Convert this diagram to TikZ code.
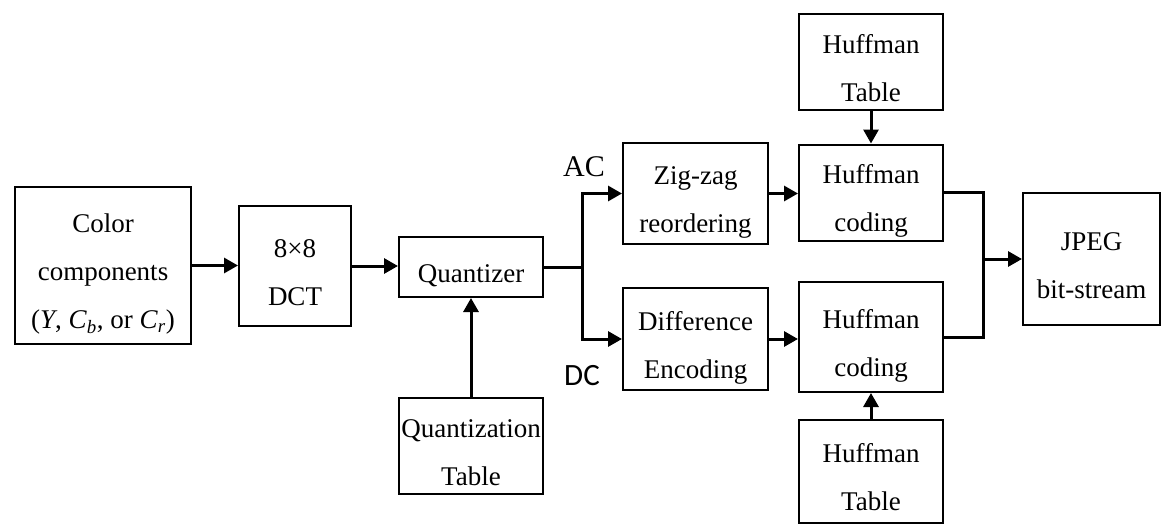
\documentclass[tikz,border=0pt]{standalone}
\usepackage{fontspec}
\setmainfont{Liberation Serif}
\newfontfamily\labelsans{Carlito}
\usetikzlibrary{arrows.meta}
% every text line 48pt tall, baseline 9pt above its foot
\newcommand{\linestrut}{\rule[-9pt]{0pt}{48pt}}

\begin{document}
\begin{tikzpicture}[x=1pt,y=-1pt,
  block/.style={draw,line width=2pt,align=center,inner sep=0pt,
    font={\fontsize{27}{48}\selectfont\ifhmode\linestrut\fi}},
  flow/.style={line width=3pt,-{Triangle[length=14pt,width=15pt]}},
  link/.style={line width=3pt}]
\useasboundingbox (0,0) rectangle (1161,525);

\node[block,minimum width=176pt,minimum height=157pt] (color) at (103,265.5) {\linestrut Color\\components\\(\textit{Y}, \textit{C}\textsubscript{\textit{b}}, or \textit{C}\textsubscript{\textit{r}})};
\node[block,minimum width=112pt,minimum height=120pt] (dct) at (295,266) {\linestrut 8×8\\DCT};
\node[block,minimum width=144pt,minimum height=60pt] (quant) at (471,267) {Quantizer};
\node[block,minimum width=144pt,minimum height=96pt] (qtable) at (471,446) {\linestrut Quantization\\Table};
\node[block,minimum width=145pt,minimum height=101pt] (zigzag) at (695.5,193.5) {\linestrut Zig-zag\\reordering};
\node[block,minimum width=145pt,minimum height=102pt] (diff) at (695.5,339) {\linestrut Difference\\Encoding};
\node[block,minimum width=144pt,minimum height=96pt] (htabup) at (871,62) {\linestrut Huffman\\Table};
\node[block,minimum width=144pt,minimum height=95pt] (hcodeup) at (871,192.5) {\linestrut Huffman\\coding};
\node[block,minimum width=144pt,minimum height=110pt] (hcodelow) at (871,337) {\linestrut Huffman\\coding};
\node[block,minimum width=144pt,minimum height=103pt] (htablow) at (871,471.5) {\linestrut Huffman\\Table};
\node[block,minimum width=137pt,minimum height=132pt] (jpeg) at (1091.5,259) {\linestrut JPEG\\bit-stream};

\node[font=\fontsize{30}{32}\selectfont] (ac) at (584,167) {AC};
\node[font=\fontsize{31}{34}\labelsans] (dc) at (582,376) {DC};

\coordinate (split) at (582,267);
\coordinate (merge) at (983,259);

\path[draw,flow] (color.east) -- (color.east -| dct.west);
\path[draw,flow] (dct.east) -- (dct.east -| quant.west);
\path[draw,flow] (qtable.north) -- (quant.south);
\path[draw,link] (quant.east) -- (split);
\path[draw,flow] (split) |- (zigzag.west);
\path[draw,flow] (split) |- (diff.west);
\path[draw,flow] (zigzag.east) -- (zigzag.east -| hcodeup.west);
\path[draw,flow] (diff.east) -- (diff.east -| hcodelow.west);
\path[draw,flow] (htabup.south) -- (hcodeup.north);
\path[draw,flow] (htablow.north) -- (hcodelow.south);
\path[draw,link] (hcodeup.east) -| (merge) |- (hcodelow.east);
\path[draw,flow] (merge) -- (jpeg.west);
\end{tikzpicture}
\end{document}
